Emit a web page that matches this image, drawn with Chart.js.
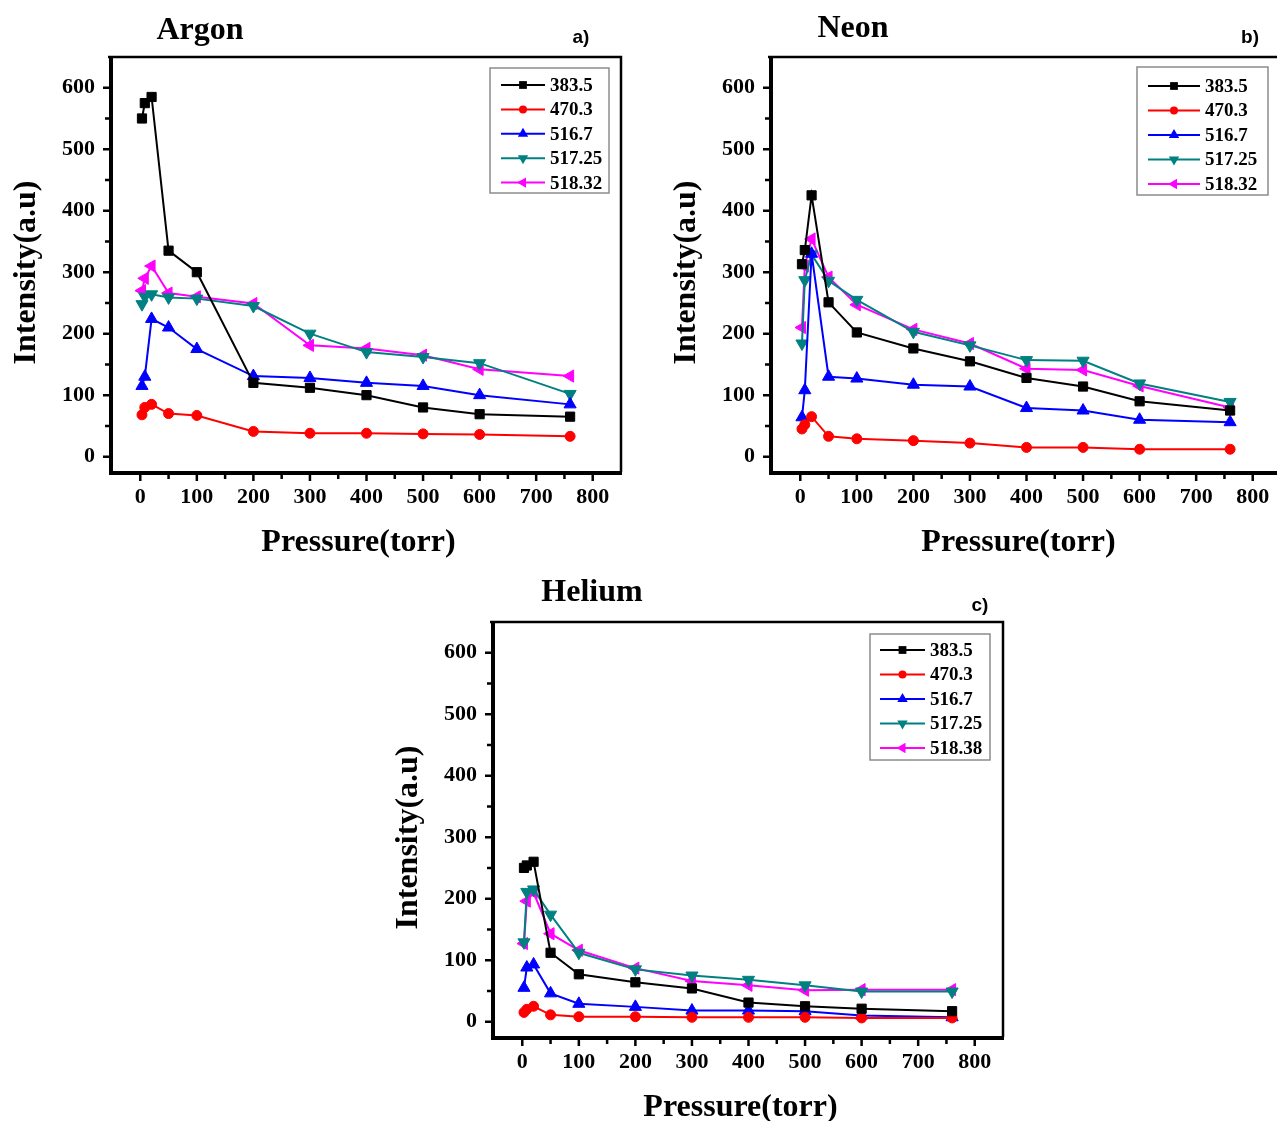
<!DOCTYPE html>
<html>
<head>
<meta charset="utf-8">
<script src="https://cdn.jsdelivr.net/npm/chart.js@4.4.1/dist/chart.umd.min.js"></script>
<style>
  html, body { margin: 0; padding: 0; background: #fff; }
  body { position: relative; width: 1277px; height: 1121px; overflow: hidden; }
  .panel { position: absolute; width: 640px; height: 560px; }
  .panel canvas { position: absolute; left: 0; top: 0; }
  .title { position: absolute; font: bold 32px "Liberation Serif", serif; transform: translate(-50%, -50%); white-space: nowrap; }
  .tag { position: absolute; font: bold 19px "Liberation Sans", sans-serif; transform: translate(-50%, -50%); }
</style>
</head>
<body>

<div class="panel" style="left:0px; top:0px;">
  <canvas id="argon" width="640" height="560"></canvas>
  <div class="title" style="left:200px; top:28px;">Argon</div>
  <div class="tag" style="left:581px; top:37px;">a)</div>
</div>

<div class="panel" style="left:660px; top:0px;">
  <canvas id="neon" width="640" height="560"></canvas>
  <div class="title" style="left:193px; top:26px;">Neon</div>
  <div class="tag" style="left:590px; top:37px;">b)</div>
</div>

<div class="panel" style="left:382px; top:565px;">
  <canvas id="helium" width="640" height="560"></canvas>
  <div class="title" style="left:210px; top:25px;">Helium</div>
  <div class="tag" style="left:598px; top:40px;">c)</div>
</div>

<script>
// pressure values (torr)
var pressure = [3, 8, 20, 50, 100, 200, 300, 400, 500, 600, 760];

// tick values (major every 100, minor at 50)
var xTicks = [0, 50, 100, 150, 200, 250, 300, 350, 400, 450, 500, 550, 600, 650, 700, 750, 800];
var yTicks = [0, 50, 100, 150, 200, 250, 300, 350, 400, 450, 500, 550, 600];

// Argon
var argon383 = [550, 575, 585, 335, 300, 120, 112, 100, 80, 69, 65];
var argon470 = [68, 80, 85, 70, 67, 41, 38, 38, 37, 36, 33];
var argon516 = [115, 130, 224, 210, 175, 131, 128, 120, 115, 100, 85];
var argon517 = [248, 260, 264, 259, 257, 245, 200, 170, 162, 152, 102];
var argon518 = [270, 290, 310, 266, 260, 249, 181, 176, 165, 142, 131];

// Neon
var neon383 = [313, 336, 425, 251, 202, 176, 155, 128, 114, 90, 75];
var neon470 = [45, 52, 65, 33, 29, 26, 22, 15, 15, 12, 12];
var neon516 = [64, 108, 330, 130, 127, 117, 114, 79, 75, 60, 56];
var neon517 = [184, 287, 329, 286, 255, 203, 181, 157, 156, 119, 89];
var neon518 = [210, 310, 354, 292, 247, 207, 184, 143, 141, 115, 80];

// Helium
var helium383 = [250, 254, 260, 112, 77, 64, 54, 31, 25, 21, 17];
var helium470 = [15, 20, 25, 11, 8, 8, 7, 7, 7, 6, 6];
var helium516 = [55, 88, 93, 46, 29, 24, 18, 18, 17, 10, 7];
var helium517 = [129, 211, 215, 174, 112, 85, 75, 68, 59, 49, 49];
var helium518 = [127, 196, 210, 143, 116, 87, 66, 59, 51, 52, 52];

var colors = ['#000000', '#ff0000', '#0000ff', '#008080', '#ff00ff'];
var styles = [
  { pointStyle: 'rect', pointRadius: 6.5, pointRotation: 0 },
  { pointStyle: 'circle', pointRadius: 5, pointRotation: 0 },
  { pointStyle: 'triangle', pointRadius: 7, pointRotation: 0 },
  { pointStyle: 'triangle', pointRadius: 7, pointRotation: 180 },
  { pointStyle: 'triangle', pointRadius: 7, pointRotation: 270 }
];

function makeDatasets(labels, series) {
  return series.map(function(values, i) {
    return {
      label: labels[i],
      data: values.map(function(v, k) { return { x: pressure[k], y: v }; }),
      borderColor: colors[i],
      backgroundColor: colors[i],
      borderWidth: 2,
      pointStyle: styles[i].pointStyle,
      pointRadius: styles[i].pointRadius,
      pointRotation: styles[i].pointRotation,
      pointBorderWidth: 1,
      tension: 0
    };
  });
}

function drawMarker(ctx, style, r, rot, x, y) {
  ctx.beginPath();
  if (style === 'rect') {
    var s = r * Math.SQRT1_2;
    ctx.rect(x - s, y - s, 2 * s, 2 * s);
  } else if (style === 'circle') {
    ctx.arc(x, y, r, 0, Math.PI * 2);
  } else {
    var a = rot * Math.PI / 180;
    for (var k = 0; k < 3; k++) {
      var t = a + k * 2 * Math.PI / 3;
      ctx.lineTo(x + Math.sin(t) * r, y - Math.cos(t) * r);
    }
    ctx.closePath();
  }
  ctx.fill();
}

// frame and tick marks like Origin
var framePlugin = {
  id: 'frame',
  afterDatasetsDraw: function(chart) {
    var ctx = chart.ctx, a = chart.chartArea;
    var xs = chart.scales.x, ys = chart.scales.y;
    ctx.save();
    ctx.strokeStyle = '#000';
    ctx.lineWidth = 2.5;
    ctx.beginPath();
    xs.ticks.forEach(function(t) {
      var px = xs.getPixelForValue(t.value);
      var len = t.value % 100 === 0 ? 9 : 7;
      ctx.moveTo(px, a.bottom);
      ctx.lineTo(px, a.bottom + len);
    });
    ys.ticks.forEach(function(t) {
      var py = ys.getPixelForValue(t.value);
      var len = t.value % 100 === 0 ? 9 : 7;
      ctx.moveTo(a.left, py);
      ctx.lineTo(a.left - len, py);
    });
    ctx.stroke();
    ctx.lineWidth = 2.5;
    ctx.beginPath();
    ctx.moveTo(a.left - 4, a.top);
    ctx.lineTo(a.right, a.top);
    ctx.lineTo(a.right, a.bottom);
    ctx.stroke();
    ctx.lineWidth = 4;
    ctx.beginPath();
    ctx.moveTo(a.left - 1, a.top);
    ctx.lineTo(a.left - 1, a.bottom + 1);
    ctx.lineTo(a.right + 1, a.bottom + 1);
    ctx.stroke();
    ctx.restore();
  }
};

var boxLegend = {
  id: 'boxLegend',
  afterDraw: function(chart, args, o) {
    var ctx = chart.ctx;
    ctx.save();
    ctx.fillStyle = '#fff';
    ctx.fillRect(o.x, o.y, o.w, o.h);
    ctx.strokeStyle = '#8c8c8c';
    ctx.lineWidth = 1.5;
    ctx.strokeRect(o.x, o.y, o.w, o.h);
    chart.data.datasets.forEach(function(ds, i) {
      var y = o.row0 + i * o.gap;
      ctx.strokeStyle = ds.borderColor;
      ctx.fillStyle = ds.borderColor;
      ctx.lineWidth = 2;
      ctx.beginPath();
      ctx.moveTo(o.x1, y);
      ctx.lineTo(o.x2, y);
      ctx.stroke();
      drawMarker(ctx, ds.pointStyle, ds.pointRadius - 1, ds.pointRotation, (o.x1 + o.x2) / 2, y);
      ctx.fillStyle = '#000';
      ctx.font = 'bold 19px "Liberation Serif"';
      ctx.textBaseline = 'middle';
      ctx.textAlign = 'left';
      ctx.fillText(ds.label, o.tx, y + 1);
    });
    ctx.restore();
  }
};

function tickLabel(v) {
  return v % 100 === 0 ? String(v) : '';
}

function makeChart(id, labels, series, legendOpts) {
  return new Chart(document.getElementById(id), {
    type: 'line',
    data: { datasets: makeDatasets(labels, series) },
    options: {
      responsive: false,
      animation: false,
      layout: { padding: { left: 0, top: 57, right: 19, bottom: 0 } },
      plugins: {
        legend: { display: false },
        tooltip: { enabled: false },
        boxLegend: legendOpts
      },
      scales: {
        x: {
          type: 'linear',
          min: -50,
          max: 850,
          afterBuildTicks: function(s) { s.ticks = xTicks.map(function(v) { return { value: v }; }); },
          afterFit: function(s) { s.height = 88; },
          border: { display: false },
          grid: { drawOnChartArea: false, drawTicks: true, tickLength: 8, tickColor: 'transparent' },
          ticks: {
            autoSkip: false, maxRotation: 0, padding: 4, color: '#000',
            font: { family: 'Liberation Serif', size: 22, weight: 'bold' },
            callback: tickLabel
          },
          title: {
            // a trailing space nudges the centred title left, as in the figure
            display: true, text: 'Pressure(torr)\u2002', color: '#000',
            font: { family: 'Liberation Serif', size: 32, weight: 'bold', lineHeight: 1 },
            padding: { top: 0, bottom: 1 }
          }
        },
        y: {
          type: 'linear',
          min: -25,
          max: 650,
          afterBuildTicks: function(s) { s.ticks = yTicks.map(function(v) { return { value: v }; }); },
          afterFit: function(s) { s.width = 112; },
          border: { display: false },
          grid: { drawOnChartArea: false, drawTicks: true, tickLength: 8, tickColor: 'transparent' },
          ticks: {
            autoSkip: false, padding: 9, color: '#000',
            font: { family: 'Liberation Serif', size: 22, weight: 'bold' },
            callback: tickLabel
          },
          title: {
            display: true, text: 'Intensity(a.u)\u2002', color: '#000',
            font: { family: 'Liberation Serif', size: 32, weight: 'bold', lineHeight: 1 },
            padding: { top: 11, bottom: 0 }
          }
        }
      }
    },
    plugins: [framePlugin, boxLegend]
  });
}

var labelsAN = ['383.5', '470.3', '516.7', '517.25', '518.32'];
var labelsHe = ['383.5', '470.3', '516.7', '517.25', '518.38'];

makeChart('argon', labelsAN, [argon383, argon470, argon516, argon517, argon518],
  { x: 490, y: 68, w: 119, h: 125, x1: 501, x2: 545, tx: 550, row0: 85, gap: 24.4 });
makeChart('neon', labelsAN, [neon383, neon470, neon516, neon517, neon518],
  { x: 477, y: 67, w: 131, h: 128, x1: 488, x2: 540, tx: 545, row0: 86, gap: 24.5 });
makeChart('helium', labelsHe, [helium383, helium470, helium516, helium517, helium518],
  { x: 488, y: 69, w: 120, h: 126, x1: 498, x2: 543, tx: 548, row0: 85, gap: 24.5 });
</script>
</body>
</html>
